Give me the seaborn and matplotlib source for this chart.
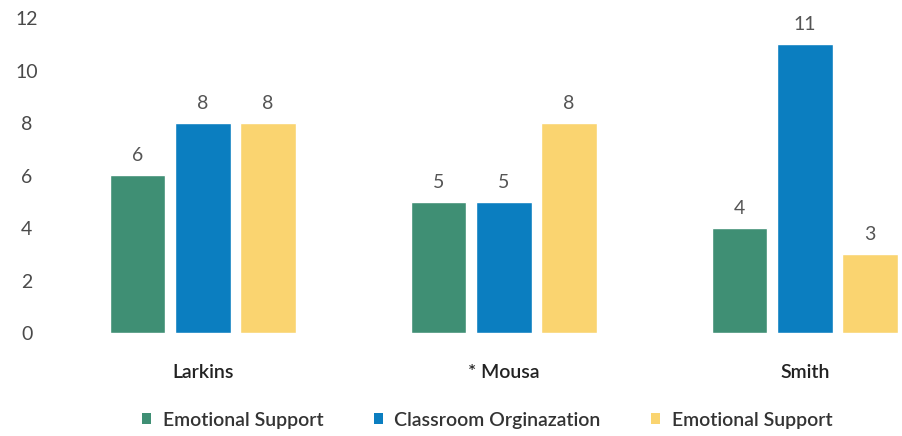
import matplotlib
matplotlib.use("Agg")
import matplotlib.pyplot as plt
import seaborn as sns
import pandas as pd
from matplotlib.patches import Patch

teachers = ["Larkins", "* Mousa", "Smith"]
series = ["Emotional Support", "Classroom Orginazation", "Emotional Support "]
emotional_1 = [6, 5, 4]
classroom = [8, 5, 11]
emotional_2 = [8, 8, 3]
colors = ["#3F8F74", "#0B7EC0", "#FAD470"]

rows = []
for s, vals in zip(series, [emotional_1, classroom, emotional_2]):
    for t, v in zip(teachers, vals):
        rows.append({"Teacher": t, "Series": s, "Value": v})
df = pd.DataFrame(rows)

sns.set_theme(style="white")
plt.rcParams["font.family"] = ["Lato", "DejaVu Sans"]

fig = plt.figure(figsize=(9.02, 4.36), dpi=100)
ax = fig.add_axes([60/902, 1-333/436, 840/902, (333-18)/436])

sns.barplot(data=df, x="Teacher", y="Value", hue="Series", order=teachers,
            hue_order=series, palette=colors, width=0.65, gap=0.15,
            legend=False, ax=ax, saturation=1)

for container in ax.containers:
    ax.bar_label(container, padding=8, fontsize=14, color="#555555")

ax.set_ylim(0, 12)
ax.set_yticks(range(0, 13, 2))
ax.set_xlim(-0.475, 2.316)
ax.set_xlabel("")
ax.set_ylabel("")
for sp in ax.spines.values():
    sp.set_visible(False)
ax.tick_params(axis="y", length=0, labelsize=14, labelcolor="#4a4a4a", pad=24)
ax.tick_params(axis="x", length=0, labelsize=14, labelcolor="#222222", pad=22)
for lbl in ax.get_yticklabels():
    lbl.set_horizontalalignment("center")
for lbl in ax.get_xticklabels():
    lbl.set_fontweight("semibold")

handles = [Patch(facecolor=c, edgecolor="none") for c in colors]
leg = fig.legend(handles, series, loc="center", bbox_to_anchor=(0.543, 1-420/436),
                 ncol=3, frameon=False, fontsize=14, handlelength=0.45, handleheight=0.45,
                 handletextpad=0.6, columnspacing=2.6, labelcolor="#333333")
for t in leg.get_texts():
    t.set_fontweight("semibold")

fig.savefig("out.png", dpi=100)
